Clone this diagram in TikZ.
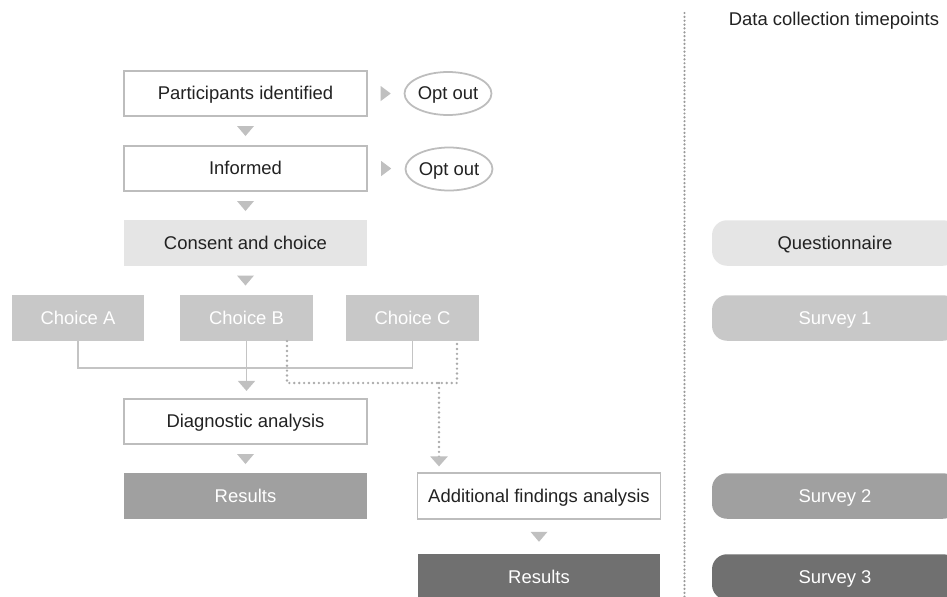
\documentclass[tikz,border=0pt]{standalone}
\usepackage{fontspec}
\setmainfont{Liberation Sans}
\usetikzlibrary{arrows.meta,shapes.geometric,calc}
\definecolor{bordergray}{HTML}{BDBDBD}
\definecolor{trigray}{HTML}{C0C0C0}
\definecolor{conngray}{HTML}{C4C4C4}
\definecolor{dotgray}{HTML}{ABABAB}
\definecolor{sepgray}{HTML}{9A9A9A}
\definecolor{fillA}{HTML}{E5E5E5}
\definecolor{fillB}{HTML}{C8C8C8}
\definecolor{fillC}{HTML}{A0A0A0}
\definecolor{fillD}{HTML}{707070}
\definecolor{txt}{HTML}{222222}
\tikzset{
  base/.style={minimum width=4.86cm, minimum height=0.91cm, inner sep=0pt,
    font=\fontsize{10.5}{12.6}\selectfont, text height=0.72em, text depth=0pt},
  whitebox/.style={base, draw=bordergray, line width=1pt, fill=white, text=txt},
  consentbox/.style={base, fill=fillA, text=txt},
  choicebox/.style={base, fill=fillB, text=white, minimum width=2.65cm},
  res1box/.style={base, fill=fillC, text=white},
  res2box/.style={base, fill=fillD, text=white},
  pill/.style={base, minimum width=4.92cm, rounded corners=0.3cm},
  optout/.style={ellipse, draw=bordergray, line width=1pt, minimum width=1.74cm,
    minimum height=0.86cm, inner sep=0pt, text=txt,
    font=\fontsize{10.5}{12.6}\selectfont, text height=0.72em, text depth=0pt},
  conn/.style={draw=conngray, line width=1.1pt},
  dotline/.style={draw=dotgray, line width=1.5pt, line cap=round, dash pattern=on 0pt off 2.8pt},
  sepline/.style={draw=sepgray, line width=1.4pt, line cap=round, dash pattern=on 0pt off 2.2pt},
  tip/.style={-{Triangle[width=0.34cm,length=0.2cm,color=trigray]}},
  dtri/.pic={\fill[trigray] (-8.5,-5) -- (8.5,-5) -- (0,5) -- cycle;},
  rtri/.pic={\fill[trigray] (-5,-7.5) -- (-5,7.5) -- (5,0) -- cycle;},
}
\begin{document}
\begin{tikzpicture}[x=0.02cm,y=-0.02cm]
\fill[white] (0,0) rectangle (947,596);
\useasboundingbox (0,0) rectangle (947,596);

% left flow
\node[whitebox] (pi) at (245.5,93.5) {Participants identified};
\node[whitebox] (inf) at (245.5,168.5) {Informed};
\node[consentbox] (cons) at (245.5,243) {Consent and choice};
\node[choicebox] (ca) at (78,318) {Choice A};
\node[choicebox] (cb) at (246.5,318) {Choice B};
\node[choicebox] (cc) at (412.5,318) {Choice C};
\node[whitebox] (diag) at (245.5,421.5) {Diagnostic analysis};
\node[res1box] (res1) at (245.5,496) {Results};
\node[whitebox] (add) at (539,496) {Additional findings analysis};
\node[res2box] (res2) at (539,577) {Results};

\node[optout] (o1) at (448,93.5) {Opt out};
\node[optout] (o2) at (449,169) {Opt out};

% triangles between boxes
\path (pi.south) -- pic[pos=0.5]{dtri} (inf.north);
\path (inf.south) -- pic[pos=0.5]{dtri} (cons.north);
\path (cons.south) -- pic[pos=0.5]{dtri} (cons.south |- cb.north);
\path (diag.south) -- pic[pos=0.5]{dtri} (res1.north);
\path (add.south) -- pic[pos=0.5]{dtri} (res2.north);
\path (pi.east) -- pic[pos=0.5]{rtri} (o1.west);
\path (inf.east) -- pic[pos=0.5]{rtri} (inf.east -| o2.west);

% solid connectors
\draw[conn] (ca.south) -- ++(0,27) -| (cc.south);
\draw[conn,tip,shorten >=0.14cm] (cb.south) -- (cb.south |- diag.north);

% dotted connectors
\coordinate (b1) at ($(cb.south)+(40.5,0)$);
\coordinate (c1) at ($(cc.south)+(44.5,0)$);
\coordinate (dj) at (439,383);
\draw[dotline] (b1) |- (dj) -| (c1);
\draw[dotline,tip,shorten >=0.12cm] (dj) -- (dj |- add.north);

% separator
\coordinate (st) at (684.5,13);
\coordinate (sb) at (684.5,600);
\draw[sepline] (st) -- (sb);

% right column
\node[font=\fontsize{10.5}{12.6}\selectfont, text=txt, inner sep=0pt, text height=0.72em, text depth=0pt] (hdr) at (834,19.5) {Data collection timepoints};
\node[pill, fill=fillA, text=txt] (q) at (835,243) {Questionnaire};
\node[pill, fill=fillB, text=white] (s1) at (835,318) {Survey 1};
\node[pill, fill=fillC, text=white] (s2) at (835,496) {Survey 2};
\node[pill, fill=fillD, text=white] (s3) at (835,577) {Survey 3};
\end{tikzpicture}
\end{document}
